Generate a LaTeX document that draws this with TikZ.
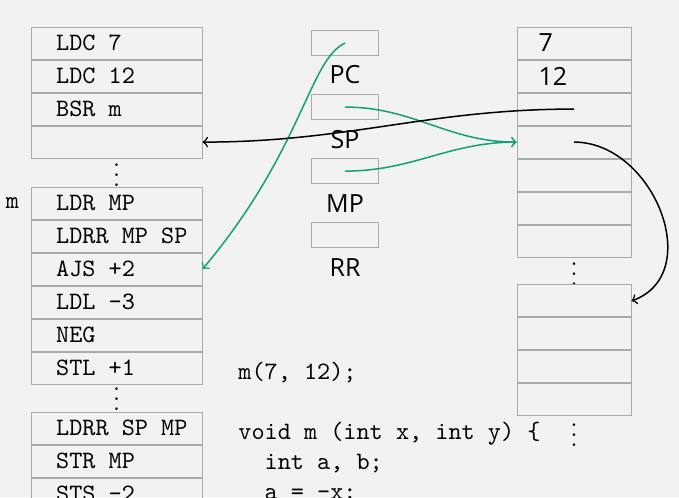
\documentclass[tikz,border=0pt]{standalone}
\usepackage{fontspec}
\setsansfont{Open Sans}
\usepackage{tikz}
\usetikzlibrary{positioning}
\definecolor{bgray}{RGB}{242,242,242}
\definecolor{cellgray}{RGB}{170,170,170}
\definecolor{ptrgreen}{RGB}{18,160,120}
\tikzset{
	op/.style={anchor=west, xshift=0.35cm, inner sep=0pt, font=\ttfamily},
	val/.style={anchor=west, xshift=0.3cm, inner sep=0pt, font=\sffamily},
	instr/.style={draw=cellgray, minimum width=2.4cm, minimum height=0.45cm, inner sep=0pt, label={[op]west:#1}},
	instr/.default={},
	cell/.style={draw=cellgray, minimum width=1.6cm, minimum height=0.45cm, inner sep=0pt, label={[val]west:#1}},
	cell/.default={},
	reg/.style={draw=cellgray, minimum width=0.95cm, minimum height=0.36cm, inner sep=0pt},
	regname/.style={font=\sffamily},
	gap/.style={inner sep=0pt},
	ptr/.style={->, semithick, color=ptrgreen}
}

\begin{document}
\begin{tikzpicture}
		%%%%% START %%%%%
		
		\useasboundingbox (0, 0) rectangle (9.544, -6.986);
		\clip (0, 0) rectangle (9.544, -6.986);
		\fill[bgray] (0, 0) rectangle (9.544, -6.986);
		
		% program
		\node[instr=LDC 7] (l0) at (1.64, -0.605) {};
		\node[instr=LDC 12, below=0pt of l0] (l1) {};
		\node[instr=BSR m, below=0pt of l1] (l2) {};
		\node[instr, below=0pt of l2] (l3) {};
		\node[gap] (ldots1) at (1.64, -2.36) {$\vdots$};
		\node[instr=LDR MP] (l5) at (1.64, -2.855) {};
		\node[instr=LDRR MP SP, below=0pt of l5] (l6) {};
		\node[instr=AJS +2, below=0pt of l6] (l7) {};
		\node[instr=LDL -3, below=0pt of l7] (l8) {};
		\node[instr=NEG, below=0pt of l8] (l9) {};
		\node[instr=STL +1, below=0pt of l9] (l10) {};
		\node[gap] (ldots2) at (1.64, -5.51) {$\vdots$};
		\node[instr=LDRR SP MP] (l12) at (1.64, -6.02) {};
		\node[instr=STR MP, below=0pt of l12] (l13) {};
		\node[instr=STS -2, below=0pt of l13] (l14) {};
		\node[left=0.04cm of l5, font=\ttfamily] (mlabel) {m};
		
		% registers
		\node[reg] (pc) at (4.85, -0.605) {};
		\node[regname] (pcname) at (4.85, -1.055) {PC};
		\node[reg] (sp) at (4.85, -1.505) {};
		\node[regname] (spname) at (4.85, -1.955) {SP};
		\node[reg] (mp) at (4.85, -2.405) {};
		\node[regname] (mpname) at (4.85, -2.855) {MP};
		\node[reg] (rr) at (4.85, -3.305) {};
		\node[regname] (rrname) at (4.85, -3.755) {RR};
		
		% stack
		\node[cell=7] (r0) at (8.07, -0.605) {};
		\node[cell=12, below=0pt of r0] (r1) {};
		\node[cell, below=0pt of r1] (r2) {};
		\node[cell, below=0pt of r2] (r3) {};
		\node[cell, below=0pt of r3] (r4) {};
		\node[cell, below=0pt of r4] (r5) {};
		\node[cell, below=0pt of r5] (r6) {};
		\node[gap] (rdots1) at (8.07, -3.75) {$\vdots$};
		\node[cell] (r8) at (8.07, -4.23) {};
		\node[cell, below=0pt of r8] (r9) {};
		\node[cell, below=0pt of r9] (r10) {};
		\node[cell, below=0pt of r10] (r11) {};
		\node[gap] (rdots2) at (8.07, -6.01) {$\vdots$};
		
		% source
		\node[anchor=north west, inner sep=0pt, align=left, font=\ttfamily] (src) at (3.345, -5.08)
			{m(7, 12);\\[12pt]void m (int x, int y) \{\\\ \ int a, b;\\\ \ a = -x;};
		
		% pointers
		\draw[ptr] (pc.center) to[out=205, in=50, out distance=0.56cm, in distance=2.2cm] (l7.east);
		\draw[ptr] (sp.center) to[out=0, in=180] (r3.west);
		\draw[ptr] (mp.center) to[out=0, in=180] (r3.west);
		\draw[->, semithick] (r2.center) to[out=180, in=0] (l3.east);
		\draw[->, semithick] (r3.center) to[out=0, in=20, looseness=1.2] (r8.east);
		
		%%%%% END %%%%%
\end{tikzpicture}
\end{document}
